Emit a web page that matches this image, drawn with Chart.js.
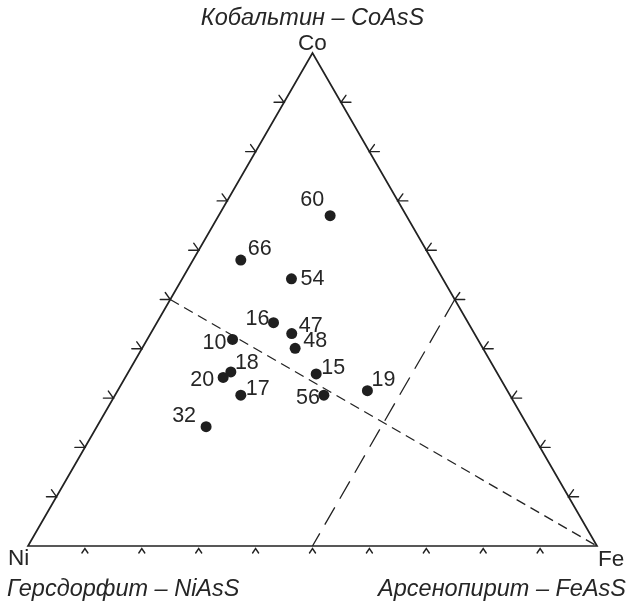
<!DOCTYPE html>
<html>
<head>
<meta charset="utf-8">
<script src="https://cdn.jsdelivr.net/npm/chart.js@4/dist/chart.umd.min.js"></script>
<style>
  html, body { margin: 0; padding: 0; background: #fff; }
  canvas { display: block; }
</style>
</head>
<body>
<canvas id="c" width="628" height="605"></canvas>
<script>
// ---- Data (ternary composition, %): Co, Ni, Fe ----
const sampleLabels = ["60", "66", "54", "16", "47", "48", "10", "18", "20", "17", "15", "56", "19", "32"];
const coValues = [67.0, 58.0, 54.2, 45.3, 43.1, 40.1, 41.9, 35.3, 34.2, 30.6, 34.9, 30.6, 31.5, 24.2];
const niValues = [13.4, 33.6, 26.6, 34.2, 32.1, 33.0, 43.1, 46.7, 48.6, 47.3, 31.9, 32.7, 24.6, 56.6];
const feValues = [19.6, 8.4, 19.2, 20.5, 24.8, 26.9, 15.0, 18.0, 17.2, 22.1, 33.2, 36.7, 43.9, 19.2];
const tickFractions = [10, 20, 30, 40, 50, 60, 70, 80, 90];
const vertexLabels = ["Co", "Ni", "Fe"];
const mineralLabels = ["Кобальтин – CoAsS", "Герсдорфит – NiAsS", "Арсенопирит – FeAsS"];

// ---- label placement (style, not data) ----
const labelOffsets = {
  "60": [-18, -16], "66": [19, -11], "54": [21, 0], "16": [-16, -4],
  "47": [19, -7], "48": [20, -7], "10": [-18, 4], "18": [16, -9],
  "20": [-21, 3], "17": [17, -6], "15": [17, -6], "56": [-16, 3],
  "19": [16, -11], "32": [-22, -11]
};

const H = Math.sqrt(3) / 2;
// ternary (%) -> cartesian in unit-side triangle (Ni at 0,0; Fe at 1,0; Co at 0.5,H)
function tern(co, ni, fe) {
  const s = co + ni + fe;
  const c = co / s, f = fe / s;
  return { x: f + c / 2, y: c * H };
}

const points = coValues.map((c, i) => tern(c, niValues[i], feValues[i]));

const INK = '#222222';

const ternaryPlugin = {
  id: 'ternary',
  beforeDatasetsDraw(chart) {
    const ctx = chart.ctx;
    const xs = chart.scales.x, ys = chart.scales.y;
    const P = (p) => [xs.getPixelForValue(p.x), ys.getPixelForValue(p.y)];
    const ni = P(tern(0, 100, 0)), fe = P(tern(0, 0, 100)), co = P(tern(100, 0, 0));
    ctx.save();
    ctx.strokeStyle = INK;
    ctx.lineCap = 'round';
    ctx.lineJoin = 'miter';
    // triangle
    ctx.lineWidth = 1.7;
    ctx.beginPath();
    ctx.moveTo(ni[0], ni[1]); ctx.lineTo(fe[0], fe[1]); ctx.lineTo(co[0], co[1]); ctx.closePath();
    ctx.stroke();

    // ticks
    ctx.lineWidth = 1.4;
    tickFractions.forEach(t => {
      const l = P(tern(t, 100 - t, 0));
      ctx.beginPath();
      ctx.moveTo(l[0] - 10, l[1]); ctx.lineTo(l[0], l[1]); ctx.lineTo(l[0] - 5, l[1] - 7);
      ctx.stroke();
      const r = P(tern(t, 0, 100 - t));
      ctx.beginPath();
      ctx.moveTo(r[0] + 10, r[1]); ctx.lineTo(r[0], r[1]); ctx.lineTo(r[0] + 5, r[1] - 7);
      ctx.stroke();
      const b = P(tern(0, 100 - t, t));
      ctx.beginPath();
      ctx.moveTo(b[0] - 3, b[1] + 7); ctx.lineTo(b[0], b[1] + 2.5); ctx.lineTo(b[0] + 3, b[1] + 7);
      ctx.stroke();
    });

    ctx.lineWidth = 1.3;
    ctx.lineCap = 'butt';
    ctx.setLineDash([10, 6]);
    const a1 = P(tern(50, 50, 0));
    ctx.beginPath(); ctx.moveTo(a1[0], a1[1]); ctx.lineTo(fe[0], fe[1]); ctx.stroke();
    ctx.setLineDash([20, 10]);
    const b1 = P(tern(50, 0, 50)), b2 = P(tern(0, 50, 50));
    ctx.beginPath(); ctx.moveTo(b1[0], b1[1]); ctx.lineTo(b2[0], b2[1]); ctx.stroke();
    ctx.setLineDash([]);
    ctx.restore();
  },
  afterDatasetsDraw(chart) {
    const ctx = chart.ctx;
    const xs = chart.scales.x, ys = chart.scales.y;
    const P = (p) => [xs.getPixelForValue(p.x), ys.getPixelForValue(p.y)];
    ctx.save();
    ctx.fillStyle = '#262626';
    ctx.textBaseline = 'middle';
    ctx.textAlign = 'center';
    ctx.font = '21.5px "Liberation Sans", Arial, sans-serif';
    points.forEach((p, i) => {
      const q = P(p);
      const o = labelOffsets[sampleLabels[i]] || [16, -8];
      ctx.fillText(sampleLabels[i], q[0] + o[0], q[1] + o[1]);
    });
    const co = P(tern(100, 0, 0)), ni = P(tern(0, 100, 0)), fe = P(tern(0, 0, 100));
    ctx.font = '22.5px "Liberation Sans", Arial, sans-serif';
    ctx.textAlign = 'center';
    ctx.fillText(vertexLabels[0], co[0], co[1] - 9);
    ctx.textAlign = 'left';
    ctx.fillText(vertexLabels[1], 8, ni[1] + 13);
    ctx.fillText(vertexLabels[2], fe[0] + 1, fe[1] + 14);
    ctx.font = 'italic 23.5px "Liberation Sans", Arial, sans-serif';
    ctx.textAlign = 'center';
    ctx.fillText(mineralLabels[0], co[0], 18);
    ctx.textAlign = 'left';
    ctx.fillText(mineralLabels[1], 7, 589);
    ctx.textAlign = 'right';
    ctx.fillText(mineralLabels[2], 626, 589);
    ctx.restore();
  }
};

new Chart(document.getElementById('c'), {
  type: 'scatter',
  data: {
    datasets: [{
      data: points,
      pointRadius: 5.5,
      pointHoverRadius: 5.5,
      pointBackgroundColor: '#1f1f1f',
      pointBorderColor: '#1f1f1f',
      pointBorderWidth: 0,
      clip: false
    }]
  },
  options: {
    responsive: false,
    animation: false,
    devicePixelRatio: 1,
    layout: { padding: { left: 28, right: 31, top: 53, bottom: 59 } },
    scales: {
      x: { type: 'linear', min: 0, max: 1, display: false },
      y: { type: 'linear', min: 0, max: H, display: false }
    },
    plugins: { legend: { display: false }, tooltip: { enabled: false } }
  },
  plugins: [ternaryPlugin]
});
</script>
</body>
</html>
